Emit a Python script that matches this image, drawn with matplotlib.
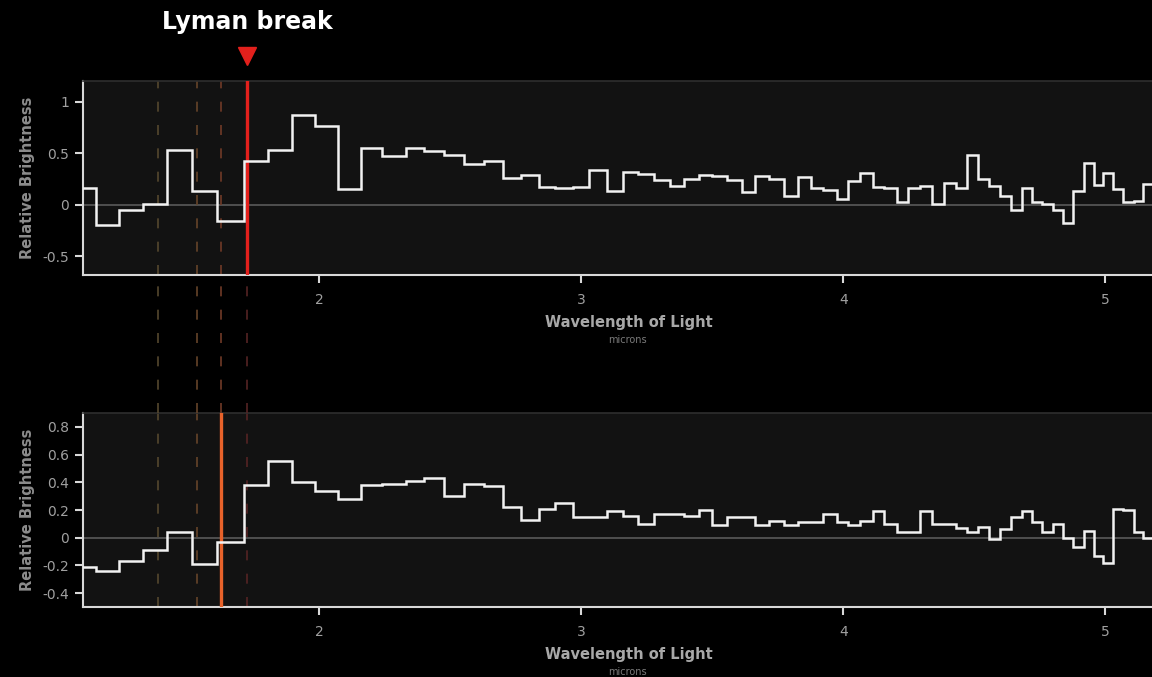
import matplotlib
matplotlib.use("Agg")
import matplotlib.pyplot as plt
import numpy as np

plt.rcParams['font.family'] = ['DejaVu Sans']

# === bin edges (microns), shared by both spectra ===
edges = [1.056, 1.148, 1.235, 1.327, 1.419, 1.514, 1.610, 1.713, 1.804, 1.896,
         1.984, 2.071, 2.159, 2.239, 2.331, 2.400, 2.476, 2.552, 2.629, 2.701,
         2.770, 2.839, 2.900, 2.968, 3.029, 3.098, 3.159, 3.216, 3.277, 3.339,
         3.392, 3.449, 3.499, 3.556, 3.613, 3.663, 3.716, 3.774, 3.827, 3.877,
         3.923, 3.976, 4.018, 4.064, 4.113, 4.155, 4.205, 4.247, 4.293, 4.339,
         4.384, 4.430, 4.472, 4.514, 4.556, 4.598, 4.640, 4.682, 4.720, 4.758,
         4.800, 4.839, 4.877, 4.919, 4.957, 4.991, 5.029, 5.068, 5.110, 5.144,
         5.178, 5.216]

# === top spectrum ===
flux_top = [0.165, -0.20, -0.05, 0.01, 0.53, 0.13, -0.16, 0.42, 0.53, 0.87,
            0.76, 0.15, 0.55, 0.47, 0.55, 0.52, 0.48, 0.40, 0.42, 0.26,
            0.29, 0.17, 0.16, 0.17, 0.34, 0.13, 0.32, 0.30, 0.24, 0.18,
            0.25, 0.29, 0.28, 0.24, 0.12, 0.28, 0.25, 0.09, 0.27, 0.16,
            0.14, 0.06, 0.23, 0.31, 0.17, 0.16, 0.03, 0.16, 0.18, 0.01,
            0.21, 0.16, 0.48, 0.25, 0.18, 0.09, -0.05, 0.16, 0.03, 0.01,
            -0.05, -0.18, 0.13, 0.41, 0.19, 0.31, 0.15, 0.03, 0.04, 0.20,
            0.20]

# === bottom spectrum ===
flux_bot = [-0.21, -0.24, -0.17, -0.09, 0.04, -0.19, -0.03, 0.38, 0.55, 0.40,
            0.34, 0.28, 0.38, 0.39, 0.41, 0.43, 0.30, 0.39, 0.37, 0.22,
            0.13, 0.21, 0.25, 0.15, 0.15, 0.19, 0.16, 0.10, 0.17, 0.17,
            0.16, 0.20, 0.09, 0.15, 0.15, 0.09, 0.12, 0.09, 0.11, 0.11,
            0.17, 0.11, 0.09, 0.12, 0.19, 0.10, 0.04, 0.04, 0.19, 0.10,
            0.10, 0.07, 0.04, 0.08, -0.01, 0.06, 0.15, 0.19, 0.11, 0.04,
            0.10, 0.00, -0.07, 0.05, -0.13, -0.18, 0.21, 0.20, 0.04, 0.00,
            0.00]

# Lyman break positions (microns) and their colours
breaks = [1.384, 1.533, 1.625, 1.724]
break_colors = ['#55472e', '#654429', '#703a27', '#552424']
top_break = 3      # index of the highlighted break in the top panel
bot_break = 2      # index of the highlighted break in the bottom panel
top_color = '#e3201c'
bot_color = '#e8622a'

xlim = (1.099, 5.178)
W, H = 1152, 677

fig = plt.figure(figsize=(W / 100, H / 100), dpi=100, facecolor='black')


def px_axes(left, top, right, bottom):
    return fig.add_axes([left / W, 1 - bottom / H, (right - left) / W, (bottom - top) / H])


ax_top = px_axes(83, 81, 1152, 275)
ax_bot = px_axes(83, 413, 1152, 607)
ax_gap = px_axes(83, 275, 1152, 413)
ax_gap.set_xlim(*xlim)
ax_gap.set_ylim(0, 1)
ax_gap.axis('off')
ax_gap.patch.set_alpha(0)
for b, c in zip(breaks, break_colors):
    ax_gap.axvline(b, color=c, lw=1.2, ls=(0, (6, 8)))


def style(ax, ylim, yticks, ylabels, hi, hi_color):
    ax.set_facecolor('#121212')
    ax.set_xlim(*xlim)
    ax.set_ylim(*ylim)
    ax.axhline(0, color='#5a5a5a', lw=1.2, zorder=1)
    for i, (b, c) in enumerate(zip(breaks, break_colors)):
        if i == hi:
            ax.axvline(b, color=hi_color, lw=2.4, zorder=4)
        else:
            ax.axvline(b, color=c, lw=1.2, ls=(0, (6, 8)), zorder=1)
    ax.spines['right'].set_visible(False)
    ax.spines['top'].set_color('#2e2e2e')
    ax.spines['top'].set_linewidth(1.2)
    for s in ['left', 'bottom']:
        ax.spines[s].set_color('#d8d8d8')
        ax.spines[s].set_linewidth(1.5)
    ax.set_yticks(yticks)
    ax.set_yticklabels(ylabels)
    ax.set_xticks([2, 3, 4, 5])
    ax.set_xticklabels(['2', '3', '4', '5'])
    ax.tick_params(colors='#d8d8d8', labelcolor='#a0a0a0', labelsize=10,
                   length=6, width=1.5, direction='out')
    ax.tick_params(axis='x', pad=7)
    ax.tick_params(axis='y', pad=4)
    ax.set_ylabel('Relative Brightness', color='#8c8c8c', fontsize=10.5,
                  fontweight='bold', labelpad=5)
    ax.set_xlabel('Wavelength of Light', color='#a8a8a8', fontsize=10.5,
                  fontweight='bold')
    ax.xaxis.set_label_coords((629 - 83) / 1069, -0.205)
    ax.text((627 - 83) / 1069, -0.335, 'microns', transform=ax.transAxes,
            color='#7a7a7a', fontsize=7, ha='center', va='center')


style(ax_top, (-0.68, 1.2), [-0.5, 0, 0.5, 1], ['-0.5', '0', '0.5', '1'], top_break, top_color)
style(ax_bot, (-0.5, 0.9), [-0.4, -0.2, 0, 0.2, 0.4, 0.6, 0.8],
      ['-0.4', '-0.2', '0', '0.2', '0.4', '0.6', '0.8'], bot_break, bot_color)

ax_top.stairs(flux_top, edges, color='#f2f2f2', lw=1.8, zorder=5)
ax_bot.stairs(flux_bot, edges, color='#f2f2f2', lw=1.8, zorder=5)

# marker and title for the break
ax_top.plot([breaks[top_break]], [1.13], marker='v', color=top_color, ms=13,
            transform=ax_top.get_xaxis_transform(), clip_on=False, zorder=6)
fig.text(247 / W, 1 - 22 / H, 'Lyman break', color='white', fontsize=17,
         fontweight='bold', ha='center', va='center')

fig.savefig('out.png', dpi=100, facecolor='black')
